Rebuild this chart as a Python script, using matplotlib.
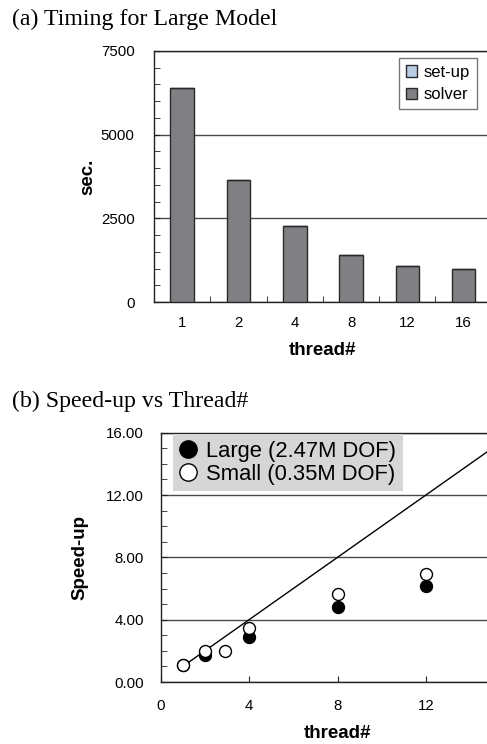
import matplotlib
matplotlib.use("Agg")
import matplotlib.pyplot as plt
from matplotlib.ticker import MultipleLocator
import numpy as np

# ---- data ----
threads_a = ["1", "2", "4", "8", "12", "16"]
solver = [6394, 3655, 2271, 1395, 1085, 986]
setup = [0, 0, 0, 0, 0, 0]

ideal_x = [1, 2, 4, 8, 12, 16]
ideal_y = [1, 2, 4, 8, 12, 16]
large_x = [1, 2, 4, 8, 12]
large_y = [1.07, 1.73, 2.87, 4.83, 6.16]
small_x = [1, 2, 2.9, 4, 8, 12]
small_y = [1.07, 2.01, 1.99, 3.49, 5.65, 6.95]
xticks_b = [0, 4, 8, 12]

sans = ["Liberation Sans", "DejaVu Sans"]
serif = ["Liberation Serif", "DejaVu Serif"]
plt.rcParams["font.family"] = sans

W, H = 487, 744
fig = plt.figure(figsize=(W / 100, H / 100), dpi=100)

def frac(left, top, right, bottom):
    return [left / W, 1 - bottom / H, (right - left) / W, (bottom - top) / H]

grid_c = "#4a4a4a"
spine_c = "#222222"

# ---- (a) ----
ax1 = fig.add_axes(frac(154, 51, 154 + 6 * 56.3, 302))
x = np.arange(len(threads_a))
ax1.bar(x, solver, width=0.42, color="#808084", edgecolor="#2a2a2a", linewidth=1.0,
        label="solver", zorder=3)
ax1.bar(x, setup, width=0.42, bottom=solver, color="#b8cce4", edgecolor="#2a2a2a",
        linewidth=1.0, label="set-up", zorder=3)
ax1.set_xlim(-0.5, len(threads_a) - 0.5)
ax1.set_ylim(0, 7500)
ax1.set_xticks(x)
ax1.set_xticklabels(threads_a)
ax1.set_xticks(x[:-1] + 0.5, minor=True)
ax1.yaxis.set_major_locator(MultipleLocator(2500))
ax1.yaxis.set_minor_locator(MultipleLocator(500))
ax1.tick_params(axis="x", which="major", length=0, pad=10, labelsize=10.8)
ax1.tick_params(axis="x", which="minor", direction="in", length=4, color=spine_c)
ax1.tick_params(axis="y", which="both", direction="in", length=4, color=spine_c,
                labelsize=10.8, pad=14)
ax1.grid(axis="y", which="major", color=grid_c, linewidth=1.0, zorder=1)
ax1.spines["right"].set_visible(False)
for s in ["left", "bottom", "top"]:
    ax1.spines[s].set_color(spine_c)
    ax1.spines[s].set_linewidth(1.0)
ax1.set_ylabel("sec.", fontsize=13.5, fontweight="bold", labelpad=3)
ax1.set_xlabel("thread#", fontsize=13.5, fontweight="bold", labelpad=9)
h, l = ax1.get_legend_handles_labels()
leg1 = ax1.legend(h[::-1], l[::-1], loc="upper left",
                  bbox_to_anchor=((399 - 154) / (6 * 56.3), 1 - (58 - 51) / 251),
                  borderaxespad=0, fontsize=12, frameon=True, fancybox=False,
                  handlelength=0.7, handleheight=0.7, handletextpad=0.4,
                  labelspacing=0.45, borderpad=0.4)
leg1.get_frame().set_edgecolor("#555555")
leg1.get_frame().set_linewidth(1.0)

fig.text(12 / W, 1 - 25 / H, "(a) Timing for Large Model", family=serif,
         fontsize=17.2, va="baseline", ha="left")

# ---- (b) ----
ax2 = fig.add_axes(frac(160.7, 432.7, 160.7 + 16 * 22.1, 682))
ax2.plot(ideal_x, ideal_y, color="black", linewidth=1.0, zorder=2)
ax2.plot(large_x, large_y, linestyle="none", marker="o", markersize=8.6,
         markerfacecolor="black", markeredgecolor="black", markeredgewidth=1.0,
         label="Large (2.47M DOF)", zorder=3)
ax2.plot(small_x, small_y, linestyle="none", marker="o", markersize=8.6,
         markerfacecolor="white", markeredgecolor="black", markeredgewidth=1.0,
         label="Small (0.35M DOF)", zorder=4)
ax2.set_xlim(0, 16)
ax2.set_ylim(0, 16)
ax2.set_xticks(xticks_b)
ax2.yaxis.set_major_locator(MultipleLocator(4))
ax2.yaxis.set_minor_locator(MultipleLocator(1))
ax2.yaxis.set_major_formatter(matplotlib.ticker.FormatStrFormatter("%.2f"))
ax2.tick_params(axis="x", which="major", direction="in", length=4, color=spine_c,
                pad=12, labelsize=10.8)
ax2.tick_params(axis="y", which="both", direction="in", length=4, color=spine_c,
                labelsize=10.8, pad=12)
ax2.grid(axis="y", which="major", color=grid_c, linewidth=1.0, zorder=1)
ax2.spines["right"].set_visible(False)
for s in ["left", "bottom", "top"]:
    ax2.spines[s].set_color(spine_c)
    ax2.spines[s].set_linewidth(1.0)
ax2.set_ylabel("Speed-up", fontsize=13.5, fontweight="bold", labelpad=13)
ax2.set_xlabel("thread#", fontsize=13.5, fontweight="bold", labelpad=9)
leg2 = ax2.legend(loc="upper left",
                  bbox_to_anchor=((173 - 160.7) / (16 * 22.1), 1 - (434 - 432.7) / 249.3),
                  borderaxespad=0, fontsize=15.8, frameon=True, fancybox=False,
                  markerscale=1.45, handlelength=0.8, handletextpad=0.4,
                  labelspacing=0.1, borderpad=0.3, framealpha=1)
leg2.get_frame().set_facecolor("#d6d6d6")
leg2.get_frame().set_edgecolor("none")
leg2.set_zorder(5)

fig.text(12 / W, 1 - 406.5 / H, "(b) Speed-up vs Thread#", family=serif,
         fontsize=17.2, va="baseline", ha="left")

fig.savefig("out.png", dpi=100)
